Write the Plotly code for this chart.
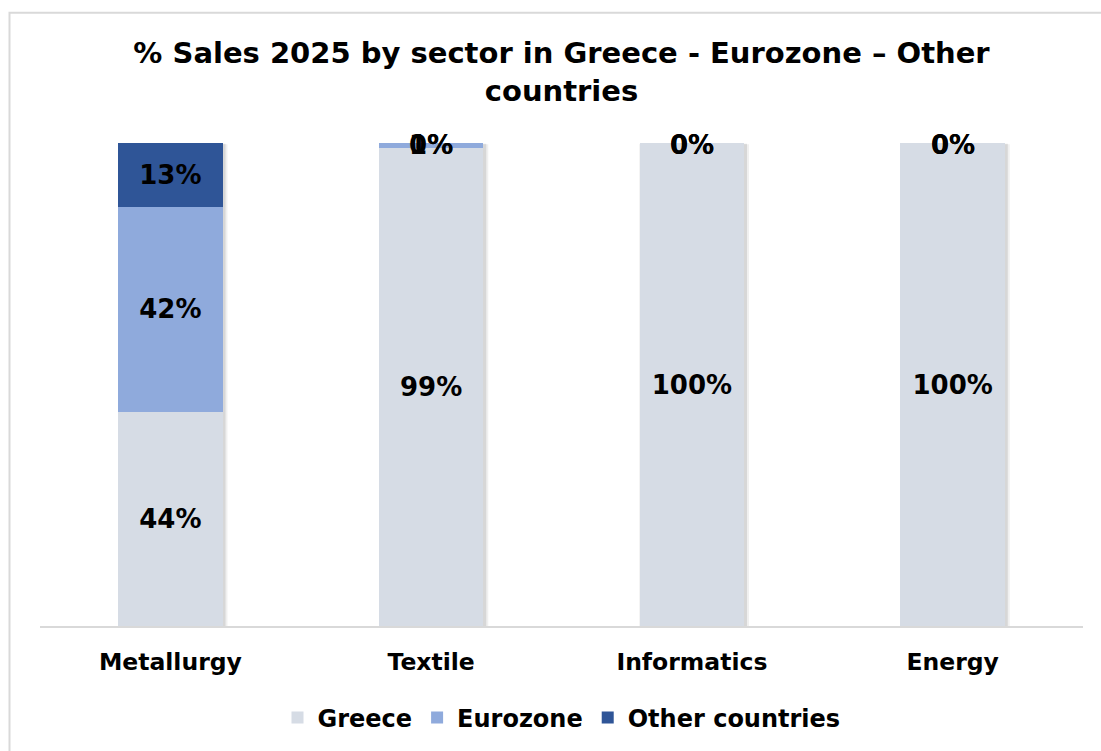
import plotly.graph_objects as go

# Sector sales split (% of 2025 sales)
sectors = ["Metallurgy", "Textile", "Informatics", "Energy"]
greece = [44.4, 99.0, 100.0, 100.0]
eurozone = [42.4, 1.0, 0.0, 0.0]
other_countries = [13.2, 0.0, 0.0, 0.0]

series = [
    ("Greece", greece, "#D6DCE5"),
    ("Eurozone", eurozone, "#8FAADC"),
    ("Other countries", other_countries, "#2F5597"),
]

FONT = "DejaVu Sans, Verdana, sans-serif"
LABEL_FONT = dict(family=FONT, size=26, color="black", weight="bold")
BAR_WIDTH = 0.4

# plot area: x 40..1083 px, y 143..627 px
L, R, T, B = 40, 18, 143, 124
W, H = 1101, 751
pw, ph = W - L - R, H - T - B

def px_x(p):
    return (p - L) / pw

def px_y(p):
    return (H - B - p) / ph

fig = go.Figure()
annotations = []
base = [0.0] * len(sectors)
for name, vals, color in series:
    fig.add_trace(go.Bar(
        name=name,
        x=sectors,
        y=vals,
        width=BAR_WIDTH,
        marker=dict(color=color, line=dict(width=0)),
        texttemplate="%{y:.0f}%",
        textposition="inside",
        insidetextanchor="middle",
        textangle=0,
        constraintext="none",
        cliponaxis=False,
        textfont=LABEL_FONT,
    ))
    # zero-height segments still carry a label at their stack position
    for i, v in enumerate(vals):
        if v == 0:
            annotations.append(dict(
                x=sectors[i], y=base[i], xref="x", yref="y",
                text=f"{v:.0f}%", showarrow=False,
                font=LABEL_FONT, yshift=-2,
            ))
        base[i] += v

# soft drop shadow on the right side of each bar
shapes = []
for i, total in enumerate(base):
    for off, alpha in ((5, 0.06), (3, 0.10)):
        shapes.append(dict(
            type="rect", xref="x", yref="y",
            x0=i - BAR_WIDTH / 2, x1=i + BAR_WIDTH / 2 + off * 4 / pw,
            y0=0, y1=total - off * 0.05,
            line=dict(width=0), fillcolor=f"rgba(0,0,0,{alpha})",
            layer="below",
        ))

shapes.append(dict(
    type="rect", xref="paper", yref="paper",
    x0=px_x(9.5), x1=px_x(1115), y0=px_y(770), y1=px_y(12.5),
    line=dict(color="#D9D9D9", width=2), fillcolor="rgba(0,0,0,0)",
    layer="below",
))

fig.update_layout(
    width=W, height=H,
    margin=dict(l=L, r=R, t=T, b=B),
    barmode="stack",
    paper_bgcolor="white",
    plot_bgcolor="white",
    uniformtext=dict(minsize=26, mode="show"),
    title=dict(
        text="% Sales 2025 by sector in Greece - Eurozone – Other<br>countries",
        xref="paper", x=0.5, xanchor="center",
        y=1 - 63 / H, yanchor="middle",
        font=dict(family=FONT, size=29, color="black", weight="bold"),
    ),
    xaxis=dict(
        showline=True, linecolor="#D9D9D9", linewidth=2,
        ticks="", showgrid=False,
        tickfont=dict(family=FONT, size=23.5, color="black", weight="bold"),
        ticklabelstandoff=14,
    ),
    yaxis=dict(
        range=[0, 100], visible=False, showgrid=False,
    ),
    legend=dict(
        orientation="h",
        x=0.5, xanchor="center",
        y=px_y(718), yanchor="middle",
        font=dict(family=FONT, size=24, color="black", weight="bold"),
        itemwidth=30,
        traceorder="normal",
    ),
    shapes=shapes,
    annotations=annotations,
)

fig.write_html("out.html")
